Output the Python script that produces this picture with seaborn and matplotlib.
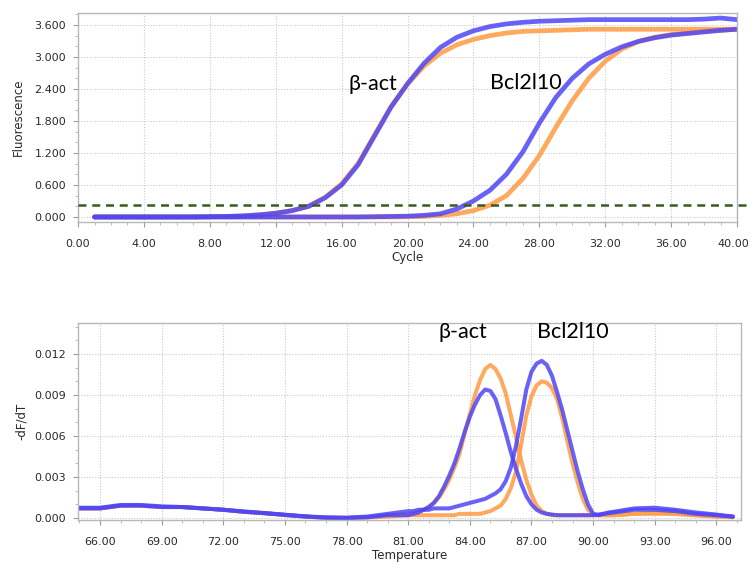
import numpy as np
import pandas as pd
import seaborn as sns
import matplotlib.pyplot as plt
import matplotlib.transforms as mtransforms
from matplotlib.ticker import MultipleLocator, FormatStrFormatter

# --- style ---
sns.set_theme(style="whitegrid")
plt.rcParams['font.family'] = ['DejaVu Sans']

BLUE = '#4f46f6'
ORANGE = '#ffa04c'
FRAME = '#b8b8b8'
TXT = '#2a2a2a'

# --- amplification data (cycles 1..40) ---
cycles = list(range(1, 41))
actb_blue = [0, 0, 0, 0, 0, 0, 0, 0.005, 0.01, 0.02,
             0.04, 0.07, 0.12, 0.2, 0.36, 0.6, 0.98, 1.52, 2.06, 2.5,
             2.88, 3.18, 3.37, 3.49, 3.57, 3.62, 3.65, 3.67, 3.68, 3.69,
             3.7, 3.7, 3.7, 3.7, 3.7, 3.7, 3.7, 3.71, 3.73, 3.7]
actb_orange = [0, 0, 0, 0, 0, 0, 0, 0.005, 0.01, 0.02,
               0.04, 0.07, 0.12, 0.2, 0.37, 0.62, 1.0, 1.54, 2.07, 2.49,
               2.83, 3.07, 3.23, 3.33, 3.4, 3.45, 3.48, 3.49, 3.5, 3.51,
               3.52, 3.52, 3.52, 3.52, 3.52, 3.52, 3.52, 3.52, 3.52, 3.52]
bcl_blue = [0, 0, 0, 0, 0, 0, 0, 0, 0, 0,
            0, 0, 0, 0, 0, 0, 0, 0.005, 0.01, 0.015,
            0.03, 0.06, 0.15, 0.3, 0.5, 0.8, 1.22, 1.76, 2.24, 2.6,
            2.87, 3.05, 3.19, 3.29, 3.36, 3.41, 3.44, 3.47, 3.5, 3.52]
bcl_orange = [0, 0, 0, 0, 0, 0, 0, 0, 0, 0,
              0, 0, 0, 0, 0, 0, 0, 0, 0, 0.005,
              0.01, 0.03, 0.06, 0.12, 0.22, 0.4, 0.72, 1.15, 1.68, 2.18,
              2.6, 2.92, 3.15, 3.29, 3.37, 3.42, 3.45, 3.48, 3.5, 3.52]
threshold = 0.225

# --- melt curve data ---
temp = [65, 66, 67, 68, 69, 70, 71, 72, 73, 74, 75, 76, 77, 78, 79, 80,
        81, 81.25, 81.5, 81.75, 82, 82.25, 82.5, 82.75, 83, 83.25, 83.5, 83.75,
        84, 84.25, 84.5, 84.75, 85, 85.25, 85.5, 85.75, 86, 86.25, 86.5, 86.75,
        87, 87.25, 87.5, 87.75, 88, 88.25, 88.5, 88.75, 89, 89.25, 89.5, 89.75,
        90, 90.25, 90.5, 90.75, 91,
        92, 93, 94, 95, 96, 96.8]
melt_actb_orange = [0.0007, 0.0007, 0.0009, 0.0009, 0.0008, 0.0008, 0.0007, 0.0006,
                    0.00045, 0.00035, 0.00022, 0.0001, 0.00002, 0.0, 0.00005, 0.0002,
                    0.0003, 0.00035, 0.00045, 0.0006, 0.0008, 0.0011, 0.0015, 0.0021,
                    0.0028, 0.0037, 0.0047, 0.0062, 0.0076, 0.0090, 0.0101, 0.0109,
                    0.0112, 0.0109, 0.0102, 0.0091, 0.0075, 0.0059, 0.0042, 0.0028,
                    0.0017, 0.0009, 0.0005, 0.0003, 0.0002, 0.0002, 0.0002, 0.0002,
                    0.0002, 0.0002, 0.0002, 0.0002, 0.0002, 0.0002, 0.0002, 0.0002, 0.0002,
                    0.0003, 0.0004, 0.0003, 0.0002, 0.0001, 0.0001]
melt_actb_blue = [0.0007, 0.0007, 0.0009, 0.0009, 0.0008, 0.0008, 0.0007, 0.0006,
                  0.00045, 0.00035, 0.00022, 0.0001, 0.00002, 0.0, 0.00005, 0.0002,
                  0.0002, 0.0003, 0.0004, 0.0006, 0.0008, 0.0011, 0.0016, 0.0023,
                  0.0031, 0.0040, 0.0051, 0.0063, 0.0074, 0.0083, 0.0090, 0.0094,
                  0.0093, 0.0087, 0.0075, 0.0062, 0.0048, 0.0036, 0.0025, 0.0016,
                  0.0010, 0.0006, 0.0004, 0.0003, 0.00025, 0.0002, 0.0002, 0.0002,
                  0.0002, 0.0002, 0.0002, 0.0002, 0.0002, 0.00025, 0.0003, 0.00035, 0.0004,
                  0.0006, 0.0006, 0.0005, 0.0003, 0.0002, 0.0001]
melt_bcl_orange = [0.0007, 0.0007, 0.0009, 0.0009, 0.0008, 0.0008, 0.0007, 0.0006,
                   0.00045, 0.00035, 0.00022, 0.0001, 0.00002, 0.0, 0.00003, 0.0001,
                   0.0002, 0.0002, 0.0002, 0.0002, 0.0002, 0.0002, 0.0002, 0.0002,
                   0.0002, 0.0002, 0.0003, 0.0003, 0.0003, 0.0003, 0.0003, 0.0004,
                   0.0005, 0.0007, 0.0009, 0.0014, 0.0022, 0.0034, 0.0054, 0.0075,
                   0.0089, 0.0097, 0.0100, 0.0099, 0.0095, 0.0087, 0.0073, 0.0056,
                   0.0040, 0.0026, 0.0014, 0.0006, 0.0003, 0.0002, 0.0002, 0.0002, 0.0002,
                   0.0003, 0.0003, 0.0003, 0.0002, 0.0001, 0.00005]
melt_bcl_blue = [0.00075, 0.00075, 0.00095, 0.00095, 0.00085, 0.0008, 0.0007, 0.0006,
                 0.00048, 0.00036, 0.00024, 0.00012, 0.00004, 0.00002, 0.0001, 0.0003,
                 0.0005, 0.0005, 0.0006, 0.0006, 0.0006, 0.0007, 0.0007, 0.0007,
                 0.0007, 0.0008, 0.0009, 0.0010, 0.0011, 0.0012, 0.0013, 0.0014,
                 0.0016, 0.0018, 0.0021, 0.0027, 0.0037, 0.0053, 0.0073, 0.0094,
                 0.0107, 0.0113, 0.0115, 0.0112, 0.0104, 0.0092, 0.0079, 0.0064,
                 0.0049, 0.0034, 0.0021, 0.0010, 0.0003, 0.0002, 0.0003, 0.0004, 0.00045,
                 0.0007, 0.00075, 0.0006, 0.0004, 0.00025, 0.0001]


def style_axes(ax):
    ax.set_facecolor('white')
    for sp in ax.spines.values():
        sp.set_color(FRAME)
        sp.set_linewidth(1.0)
    ax.grid(True, which='major', color='#c9c9c9', linestyle=(0, (1, 1.5)), linewidth=0.8)
    ax.grid(False, which='minor')
    ax.tick_params(which='major', direction='out', length=3.5, width=0.8, color='#9a9a9a',
                   labelsize=8, labelcolor=TXT, left=True, bottom=True)
    ax.tick_params(which='minor', direction='out', length=2.2, width=0.6, color='#b0b0b0',
                   left=True, bottom=True)
    ax.tick_params(axis='x', which='major', pad=8.5)
    ax.tick_params(axis='y', which='major', pad=5)


fig = plt.figure(figsize=(7.51, 5.64), dpi=100)
ax1 = fig.add_axes([0.1039, 0.6064, 0.8775, 0.3706])
ax2 = fig.add_axes([0.1039, 0.0780, 0.8828, 0.3493])

# --- top: amplification plot ---
for ys, col, a in [(actb_orange, ORANGE, 0.9), (bcl_orange, ORANGE, 0.9),
                   (actb_blue, BLUE, 0.85), (bcl_blue, BLUE, 0.85)]:
    sns.lineplot(x=cycles, y=ys, ax=ax1, color=col, alpha=a, linewidth=3.4,
                 solid_capstyle='round', solid_joinstyle='round')
ax1.axhline(threshold, xmin=0, xmax=1.02, clip_on=False, color='#3b5a1e',
            linewidth=1.8, linestyle=(0, (3.2, 2.3)), zorder=5)

ax1.set_xlim(0, 40)
ax1.set_ylim(-0.094, 3.825)
ax1.xaxis.set_major_locator(MultipleLocator(4))
ax1.xaxis.set_minor_locator(MultipleLocator(1))
ax1.yaxis.set_major_locator(MultipleLocator(0.6))
ax1.yaxis.set_minor_locator(MultipleLocator(0.2))
ax1.xaxis.set_major_formatter(FormatStrFormatter('%.2f'))
ax1.yaxis.set_major_formatter(FormatStrFormatter('%.3f'))
style_axes(ax1)
ax1.set_xlabel('Cycle', fontsize=8.5, color=TXT, labelpad=2)
ax1.set_ylabel('Fluorescence', fontsize=8.5, color=TXT, labelpad=7)
ax1.text(17.87, 2.49, 'β-act', fontsize=15.5, family='Lato', ha='center', va='center', color='black')
ax1.text(27.2, 2.52, 'Bcl2l10', fontsize=15.5, family='Lato', ha='center', va='center', color='black')

# last x label sits tight against the right edge
fig.canvas.draw()
shift = mtransforms.ScaledTranslation(-4 / 100, 0, fig.dpi_scale_trans)
for lab in ax1.get_xticklabels():
    if lab.get_text() == '40.00':
        lab.set_transform(lab.get_transform() + shift)

# --- bottom: melt curve ---
for ys, col, a in [(melt_actb_orange, ORANGE, 0.9), (melt_bcl_orange, ORANGE, 0.9),
                   (melt_actb_blue, BLUE, 0.85), (melt_bcl_blue, BLUE, 0.85)]:
    sns.lineplot(x=temp, y=ys, ax=ax2, color=col, alpha=a, linewidth=2.9,
                 solid_capstyle='round', solid_joinstyle='round')

ax2.set_xlim(64.93, 97.2)
ax2.set_ylim(-0.00015, 0.01427)
ax2.xaxis.set_major_locator(MultipleLocator(3))
ax2.xaxis.set_minor_locator(MultipleLocator(1))
ax2.yaxis.set_major_locator(MultipleLocator(0.003))
ax2.yaxis.set_minor_locator(MultipleLocator(0.001))
ax2.xaxis.set_major_formatter(FormatStrFormatter('%.2f'))
ax2.yaxis.set_major_formatter(FormatStrFormatter('%.3f'))
style_axes(ax2)
ax2.set_xlabel('Temperature', fontsize=8.5, color=TXT, labelpad=2)
ax2.set_ylabel('-dF/dT', fontsize=8.5, color=TXT, labelpad=5)
ax2.text(83.66, 0.0136, 'β-act', fontsize=15.5, family='Lato', ha='center', va='center',
         color='black', clip_on=False)
ax2.text(89.0, 0.0136, 'Bcl2l10', fontsize=15.5, family='Lato', ha='center', va='center',
         color='black', clip_on=False)

fig.savefig('out.png', dpi=100, facecolor='white')
